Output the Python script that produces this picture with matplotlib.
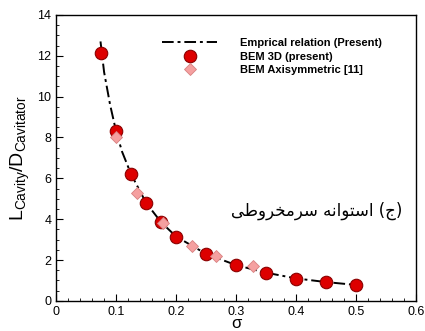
import numpy as np
import matplotlib
matplotlib.use('Agg')
import matplotlib.pyplot as plt
from matplotlib.ticker import MultipleLocator, FormatStrFormatter

plt.rcParams['font.family'] = ['Liberation Sans', 'DejaVu Sans']

sig_emp = [0.074, 0.08, 0.09, 0.1, 0.11, 0.125, 0.15, 0.175, 0.2, 0.25, 0.3, 0.35, 0.4, 0.45, 0.5]
ld_emp = [12.7, 11.2, 9.6, 8.3, 7.3, 6.2, 4.8, 3.85, 3.15, 2.3, 1.75, 1.38, 1.1, 0.92, 0.78]

# BEM 3D (present)
sig_3d = [0.075, 0.1, 0.125, 0.15, 0.175, 0.2, 0.25, 0.3, 0.35, 0.4, 0.45, 0.5]
ld_3d = [12.15, 8.3, 6.2, 4.8, 3.85, 3.15, 2.3, 1.76, 1.36, 1.08, 0.91, 0.78]

# BEM axisymmetric [11]
sig_ax = [0.1, 0.135, 0.179, 0.227, 0.266, 0.329]
ld_ax = [8.0, 5.3, 3.8, 2.7, 2.2, 1.73]

# "(ج) استوانه سرمخروطی" written as shaped glyphs in visual order
word1 = '\uFEF0\uFEC3\uFEED\uFEAE\uFEA8\uFEE3\uFEAE\uFEB3'   # سرمخروطی
word2 = '\uFEEA\uFEE7\uFE8D\uFEEE\uFE98\uFEB3\uFE8D'         # استوانه
label_fa = word1 + ' ' + word2 + ' (\uFE9D)'

fig = plt.figure(figsize=(4.25, 3.31), dpi=100)
ax = fig.add_axes([0.132, 0.091, 0.847, 0.864])

ax.plot(sig_emp, ld_emp, color='black', lw=1.4, dashes=[6, 2, 1.5, 2],
        label='Emprical relation (Present)')
ax.plot(sig_3d, ld_3d, 'o', ms=9, mfc='#dd0000', mec='#8a0000', mew=0.8,
        label='BEM 3D (present)')
ax.plot(sig_ax, ld_ax, 'D', ms=6.5, mfc='#f5a0a0', mec='#d88080', mew=0.6,
        label='BEM Axisymmetric [11]')

ax.set_xlim(0, 0.6)
ax.set_ylim(0, 14)
ax.xaxis.set_major_locator(MultipleLocator(0.1))
ax.xaxis.set_minor_locator(MultipleLocator(0.02))
ax.yaxis.set_major_locator(MultipleLocator(2))
ax.yaxis.set_minor_locator(MultipleLocator(0.5))
ax.xaxis.set_major_formatter(FormatStrFormatter('%g'))
ax.tick_params(which='both', direction='in', top=False, right=False, labelsize=9)
ax.tick_params(which='major', length=5)
ax.tick_params(which='minor', length=2.5)
for s in ax.spines.values():
    s.set_linewidth(1.0)

ax.set_xlabel('σ', fontsize=12, labelpad=-1)
ax.set_ylabel(r'$\mathregular{L_{Cavity}/D_{Cavitator}}$', fontsize=14, labelpad=4)

ax.text(0.435, 4.4, label_fa, family='DejaVu Sans', fontsize=12,
        ha='center', va='center')

leg = ax.legend(loc='upper left', bbox_to_anchor=(0.278, 0.938), frameon=False,
                prop={'weight': 'bold', 'size': 8}, handlelength=5,
                handletextpad=2, labelspacing=0.3, borderpad=0)

fig.savefig('out.png', dpi=100)
